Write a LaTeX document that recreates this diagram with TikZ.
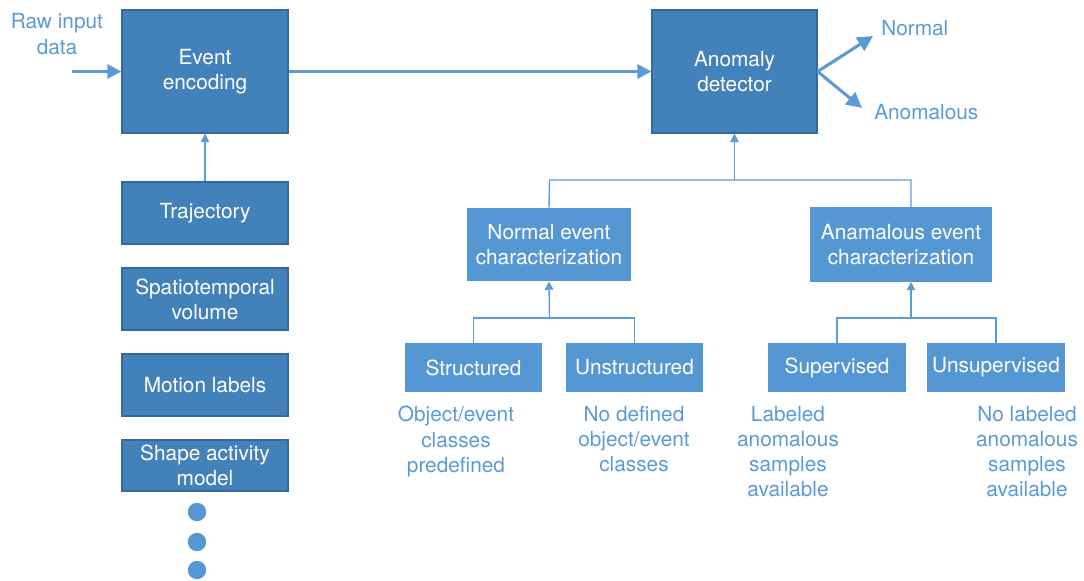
\documentclass[tikz,border=0pt]{standalone}
\usepackage{fontspec}
\setmainfont{TeX Gyre Heros}
\usetikzlibrary{arrows.meta}
\definecolor{darkbox}{HTML}{4281BA}
\definecolor{darkedge}{HTML}{36699A}
\definecolor{lightbox}{HTML}{5597D3}
\definecolor{linecol}{HTML}{5B9BD5}
\tikzset{
  darkb/.style={draw=darkedge, line width=0.8pt, fill=darkbox, text=white, align=center, inner sep=0pt, font=\fontsize{14.8}{17.7}\selectfont},
  lightb/.style={fill=lightbox, text=white, align=center, inner sep=0pt, font=\fontsize{14.8}{17.7}\selectfont},
  lbl/.style={text=linecol, align=center, inner sep=0pt, font=\fontsize{14.8}{17.9}\selectfont},
  thickarr/.style={draw=linecol, line width=2.2pt, -{Triangle[length=10pt,width=10pt]}},
  outarr/.style={draw=linecol, line width=2.2pt, -{Triangle[length=11pt,width=11pt]}},
  thinarr/.style={draw=linecol, line width=1pt, -{Triangle[length=6pt,width=6pt]}},
  thinline/.style={draw=linecol, line width=1pt},
  dot/.style={circle, fill=lightbox, inner sep=0pt, minimum size=0.46cm}
}
\begin{document}
\begin{tikzpicture}[x=0.025cm, y=-0.025cm]
\useasboundingbox (0,0) rectangle (1084,580);
% top row
\node[darkb, minimum width=4.15cm, minimum height=3.075cm] (enc) at (205,71.5) {Event\\encoding};
\node[darkb, minimum width=4.125cm, minimum height=3.075cm] (det) at (734.5,71.5) {Anomaly\\detector};
\node[lbl] (raw) at (57,34) {Raw input\\data};
\coordinate (rawstart) at (72,71.5);
\node[lbl, anchor=west] (normal) at (881,28) {Normal};
\node[lbl, anchor=west] (anom) at (874,112) {Anomalous};
\coordinate (normtip) at (873,36);
\coordinate (anomtip) at (862,108);
\draw[thickarr] (rawstart) -- (enc.west);
\draw[thickarr] (enc.east) -- (det.west);
\draw[outarr] (det.east) -- (normtip);
\draw[outarr] (det.east) -- (anomtip);
% left column
\node[darkb, minimum width=4.15cm, minimum height=1.55cm] (traj) at (205,213) {Trajectory};
\node[darkb, minimum width=4.15cm, minimum height=1.55cm] (spat) at (205,299) {Spatiotemporal\\volume};
\node[darkb, minimum width=4.15cm, minimum height=1.55cm] (mot) at (205,385) {Motion labels};
\node[darkb, minimum width=4.15cm, minimum height=1.275cm] (shape) at (205,465.5) {Shape activity\\model};
\node[dot] (d1) at (197,512) {};
\node[dot] (d2) at (197,542) {};
\node[dot] (d3) at (197,570) {};
\draw[thinarr] (traj.north) -- (enc.south);
% characterization
\node[lightb, minimum width=4.1cm, minimum height=1.825cm] (nchar) at (549,244.5) {Normal event\\characterization};
\node[lightb, minimum width=4.55cm, minimum height=1.85cm] (achar) at (901,244.5) {Anamalous event\\characterization};
\coordinate (junc) at (734.5,180);
\coordinate (nchartop) at (549.5,180);
\coordinate (achartop) at (911,180);
\coordinate (acharin) at (911,207.5);
\draw[thinline] (nchar.north) -- (nchartop) -- (achartop) -- (acharin);
\draw[thinarr] (junc) -- (det.south);
% lower boxes
\node[lightb, minimum width=3.425cm, minimum height=1.225cm] (struct) at (473.5,367.5) {Structured};
\node[lightb, minimum width=3.425cm, minimum height=1.225cm] (unstruct) at (634.5,367.5) {Unstructured};
\node[lightb, minimum width=3.425cm, minimum height=1.225cm] (sup) at (837,367.5) {Supervised};
\node[lightb, minimum width=3.425cm, minimum height=1.225cm] (unsup) at (996,367.5) {Unsupervised};
\coordinate (lj) at (549.5,318);
\coordinate (rj) at (911,318);
\draw[thinline] (struct.north) -- (struct.north |- lj) -- (unstruct.north |- lj) -- (unstruct.north);
\draw[thinarr] (lj) -- (nchar.south);
\draw[thinline] (sup.north) -- (sup.north |- rj) -- (unsup.north |- rj) -- (unsup.north);
\draw[thinarr] (rj) -- (acharin |- achar.south);
% descriptions
\node[lbl, anchor=north] (dstruct) at (456,406) {Object/event\\classes\\predefined};
\node[lbl, anchor=north] (dunstruct) at (634,406) {No defined\\object/event\\classes};
\node[lbl, anchor=north] (dsup) at (788,406) {Labeled\\anomalous\\samples\\available};
\node[lbl, anchor=north] (dunsup) at (1027,406) {No labeled\\anomalous\\samples\\available};
\end{tikzpicture}
\end{document}
